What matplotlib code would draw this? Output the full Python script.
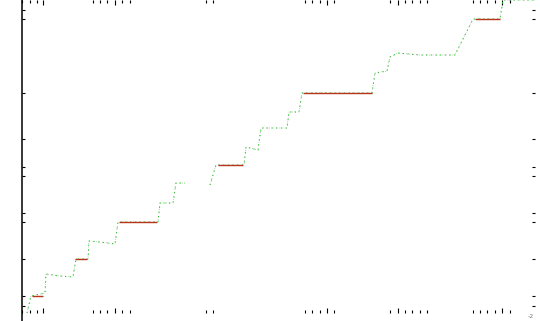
import numpy as np
import matplotlib.pyplot as plt

# staircase (x, y in plot units)
path_x = [5, 9, 23, 24, 38, 51, 54, 66, 67, 78, 93, 96, 136, 138, 151, 154, 163,
          np.nan,
          188, 194, 222, 224, 236, 239, 265, 267, 277, 280, 350, 353, 365, 368,
          376, 398, 433, 451, 478, 481, 513]
path_y = [0, 17, 20, 39, 37, 36, 54, 54, 72, 71, 69, 91, 91, 110, 110, 130, 130,
          np.nan,
          128, 148, 148, 166, 163, 185, 185, 201, 201, 220, 220, 240, 242, 256,
          260, 258, 258, 294, 294, 313, 313]

# flat levels shown in red
level_y = [17, 54, 91, 148, 220, 294]
level_start = [10, 53, 97, 196, 281, 453]
level_end = [21, 65, 135, 221, 350, 478]

y_ticks = [303, 294, 220, 174, 146, 137, 100, 91, 54, 17, 7]
x_minor = [0, 8, 15, 71, 78, 85, 100, 108, 184, 191, 283, 290, 298, 312,
           368, 383, 390, 398, 405, 451, 458, 465, 473, 488]
x_major = [21, 93, 305, 376, 480]

fig = plt.figure(figsize=(5.4, 3.21), dpi=100)
ax = fig.add_axes([22 / 540, 0, 513 / 540, 1])

ax.plot(path_x, path_y, color='#3ad83a', lw=0.8, ls=(0, (1.2, 3)), zorder=2)
ax.plot(path_x, path_y, color='#555555', lw=0.4, ls=(0, (1, 5)), zorder=3)
ax.hlines(level_y, level_start, level_end, color='#b8341c', lw=1.0, zorder=4)

ax.set_xlim(0, 513)
ax.set_ylim(-8, 313)

for side in ['top', 'right', 'bottom']:
    ax.spines[side].set_visible(False)
ax.spines['left'].set_linewidth(1.1)
ax.spines['bottom'].set_position(('data', 0))

ax.set_xticks(x_major)
ax.set_xticks(x_minor, minor=True)
ax.set_yticks(y_ticks)
ax.tick_params(axis='both', which='both', direction='in', top=True, right=True,
               labelbottom=False, labelleft=False, width=0.8, color='black')
ax.tick_params(axis='x', which='major', length=3.5)
ax.tick_params(axis='x', which='minor', length=2)
ax.tick_params(axis='y', length=2.5)

fig.text(531 / 540, 1 - 316 / 321, '-2', fontsize=4.5, color='#777777',
         ha='center', va='center')

fig.savefig('out.png', dpi=100)
